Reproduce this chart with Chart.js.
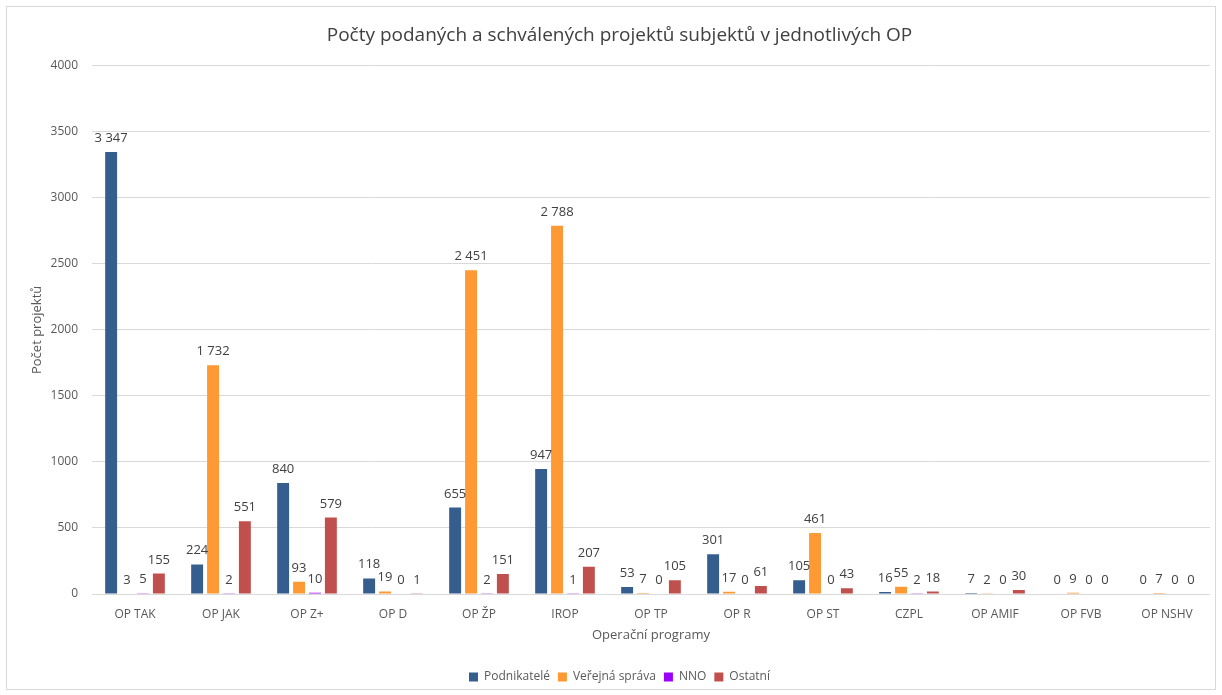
<!DOCTYPE html>
<html>
<head>
<meta charset="utf-8">
<script src="https://cdn.jsdelivr.net/npm/chart.js@4.4.0/dist/chart.umd.min.js"></script>
<style>
  html, body { margin: 0; padding: 0; background: #fff; }
  #wrap { width: 1222px; height: 695px; position: relative; }
</style>
</head>
<body>
<div id="wrap"><canvas id="opChart" width="1222" height="695"></canvas></div>
<script>
const programs = ['OP TAK', 'OP JAK', 'OP Z+', 'OP D', 'OP ŽP', 'IROP', 'OP TP', 'OP R', 'OP ST', 'CZPL', 'OP AMIF', 'OP FVB', 'OP NSHV'];
const podnikatele = [3347, 224, 840, 118, 655, 947, 53, 301, 105, 16, 7, 0, 0];
const verejnaSprava = [3, 1732, 93, 19, 2451, 2788, 7, 17, 461, 55, 2, 9, 7];
const nno = [5, 2, 10, 0, 2, 1, 0, 0, 0, 2, 0, 0, 0];
const ostatni = [155, 551, 579, 1, 151, 207, 105, 61, 43, 18, 30, 0, 0];

const fontFamily = "'Open Sans', 'Liberation Sans', sans-serif";

function formatNum(v) {
    return String(v).replace(/\B(?=(\d{3})+(?!\d))/g, ' ');
}

// light frame around whole chart
const framePlugin = {
    id: 'frame',
    beforeDraw(chart) {
        const ctx = chart.ctx;
        ctx.save();
        ctx.fillStyle = '#fff';
        ctx.fillRect(0, 0, chart.width, chart.height);
        ctx.strokeStyle = '#d9d9d9';
        ctx.lineWidth = 1;
        ctx.strokeRect(6.5, 6.5, 1209, 683);
        ctx.restore();
    }
};

// value labels above bars
const valueLabels = {
    id: 'valueLabels',
    afterDatasetsDraw(chart) {
        const ctx = chart.ctx;
        ctx.save();
        ctx.font = '13px ' + fontFamily;
        ctx.fillStyle = '#404040';
        ctx.textAlign = 'center';
        ctx.textBaseline = 'alphabetic';
        chart.data.datasets.forEach((ds, i) => {
            const meta = chart.getDatasetMeta(i);
            meta.data.forEach((bar, j) => {
                ctx.fillText(formatNum(ds.data[j]), bar.x, bar.y - 10);
            });
        });
        ctx.restore();
    }
};

const ctx = document.getElementById('opChart').getContext('2d');
const opChart = new Chart(ctx, {
    type: 'bar',
    data: {
        labels: programs,
        datasets: [
            { label: 'Podnikatelé', data: podnikatele, backgroundColor: '#355e8f' },
            { label: 'Veřejná správa', data: verejnaSprava, backgroundColor: '#ff9933' },
            { label: 'NNO', data: nno, backgroundColor: '#9b00ff' },
            { label: 'Ostatní', data: ostatni, backgroundColor: '#c0504d' }
        ]
    },
    options: {
        responsive: false,
        animation: false,
        layout: { padding: { left: 29, right: 12, top: 0, bottom: 2 } },
        datasets: {
            bar: { categoryPercentage: 0.74, barPercentage: 0.75 }
        },
        plugins: {
            title: {
                display: true,
                text: 'Počty podaných a schválených projektů subjektů v jednotlivých OP',
                color: '#404040',
                font: { family: fontFamily, size: 19, weight: 'normal' },
                padding: { top: 24, bottom: 19 }
            },
            legend: {
                position: 'bottom',
                labels: {
                    color: '#595959',
                    font: { family: fontFamily, size: 12 },
                    usePointStyle: true,
                    pointStyle: 'rect',
                    boxWidth: 9,
                    boxHeight: 9,
                    padding: 8
                }
            },
            tooltip: { enabled: false }
        },
        scales: {
            x: {
                grid: { display: false },
                border: { display: false },
                ticks: {
                    color: '#595959',
                    font: { family: fontFamily, size: 12 },
                    padding: 5
                },
                title: {
                    display: true,
                    text: 'Operační programy',
                    color: '#595959',
                    font: { family: fontFamily, size: 13 },
                    padding: { top: 1, bottom: 20 }
                }
            },
            y: {
                min: 0,
                max: 4000,
                afterFit(scale) { scale.width = 63; },
                grid: { color: '#d9d9d9', drawTicks: false },
                border: { display: false },
                ticks: {
                    stepSize: 500,
                    color: '#595959',
                    font: { family: fontFamily, size: 12 },
                    padding: 14,
                    callback: v => String(v)
                },
                title: {
                    display: true,
                    text: 'Počet projektů',
                    color: '#595959',
                    font: { family: fontFamily, size: 13 },
                    padding: 0
                }
            }
        }
    },
    plugins: [framePlugin, valueLabels]
});
</script>
</body>
</html>
